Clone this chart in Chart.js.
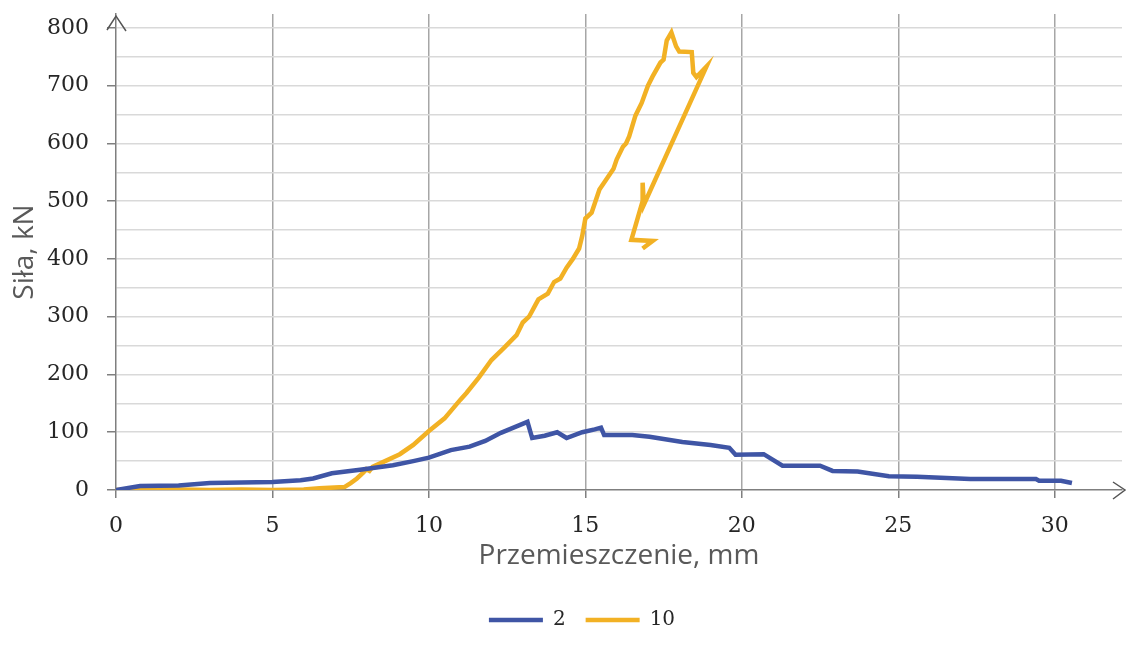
<!DOCTYPE html>
<html>
<head>
<meta charset="utf-8">
<script src="https://cdn.jsdelivr.net/npm/chart.js@4/dist/chart.umd.min.js"></script>
<style>
  html, body { margin: 0; padding: 0; background: #fff; }
  #wrap { width: 1127px; height: 657px; }
</style>
</head>
<body>
<div id="wrap"><canvas id="chart" width="1127" height="657"></canvas></div>
<script>
// Seria "2"
const blueX = [0, 0.77, 2, 3, 4, 5, 5.9, 6.3, 6.9, 7.8, 8.85, 9.5, 10.0, 10.7, 11.3, 11.8, 12.3, 12.8, 13.15, 13.3, 13.7, 14.1, 14.4, 14.9, 15.3, 15.5, 15.6, 16.5, 17.05, 18.1, 19.0, 19.6, 19.8, 20.7, 21.3, 22.5, 22.9, 23.7, 24.7, 25.6, 27.3, 29.4, 29.5, 30.2, 30.55];
const blueY = [0, 7, 8, 12, 13, 14, 17, 20, 29, 35, 43, 50, 56, 69, 75, 85, 99, 110, 118, 90, 94, 100, 90, 100, 105, 108, 95, 95, 92, 83, 78, 73, 61, 62, 42, 42, 33, 32, 24, 23, 19, 19, 16, 16, 12];

// Seria "10"
const orangeX = [0, 0.5, 1, 1.5, 2, 3, 4, 5, 6, 6.5, 7.3, 7.5, 7.7, 7.9, 8.0, 8.1, 8.2, 8.6, 9.07, 9.5, 10.0, 10.5, 11.0, 11.2, 11.6, 12.0, 12.4, 12.8, 13.0, 13.2, 13.4, 13.5, 13.8, 14.0, 14.2, 14.4, 14.6, 14.8, 14.9, 15.0, 15.2, 15.45, 15.7, 15.9, 16.0, 16.2, 16.3, 16.4, 16.6, 16.8, 17.0, 17.15, 17.4, 17.5, 17.6, 17.75, 17.9, 18.0, 18.4, 18.45, 18.55, 18.87, 16.87, 16.83, 16.83, 16.47, 17.15, 16.83];
const orangeY = [0, 1, 0, 2, 1, 0, 1, 0, 1, 3, 5, 12, 20, 30, 36, 33, 40, 50, 62, 78, 102, 124, 156, 168, 195, 225, 246, 268, 290, 300, 320, 330, 340, 360, 366, 385, 400, 418, 440, 470, 480, 520, 540, 556, 572, 594, 600, 612, 648, 670, 700, 716, 740, 745, 778, 792, 768, 759, 758, 722, 715, 733, 494, 532, 500, 433, 431, 418];

const seriesLabels = ['2', '10'];
const seriesColors = ['#3f55a5', '#f2b124'];

const X_MAX = 32.15;
const X_STEP = 5;
const Y_MAX = 824;
const Y_STEP = 50;
const Y_LABEL_STEP = 100;

function toPoints(xs, ys) {
    return xs.map((x, i) => ({ x: x, y: ys[i] }));
}

const axisColor = '#7f7f7f';
const tickFont = { family: 'DejaVu Serif', size: 22 };
const titleFont = { family: 'Open Sans', size: 28 };

// Arrow heads at the end of both axes
const axisArrows = {
    id: 'axisArrows',
    afterDraw(chart) {
        const ctx = chart.ctx;
        const area = chart.chartArea;
        const x0 = chart.scales.x.getPixelForValue(0);
        const y0 = chart.scales.y.getPixelForValue(0);
        ctx.save();
        ctx.strokeStyle = '#555';
        ctx.lineWidth = 1.5;
        ctx.beginPath();
        ctx.moveTo(x0 - 9, area.top + 16);
        ctx.lineTo(x0, area.top + 2);
        ctx.lineTo(x0 + 10, area.top + 17);
        ctx.moveTo(area.right - 9, y0 - 8);
        ctx.lineTo(area.right + 3, y0);
        ctx.lineTo(area.right - 9, y0 + 9);
        ctx.stroke();
        ctx.restore();
    }
};

const datasets = [
    { label: seriesLabels[0], data: toPoints(blueX, blueY) },
    { label: seriesLabels[1], data: toPoints(orangeX, orangeY) }
].map((ds, i) => ({
    ...ds,
    borderColor: seriesColors[i],
    backgroundColor: seriesColors[i],
    borderWidth: 4.5,
    pointRadius: 0,
    tension: 0,
    showLine: true,
    pointStyle: 'line'
}));

new Chart(document.getElementById('chart'), {
    type: 'scatter',
    data: { datasets: datasets },
    plugins: [axisArrows],
    options: {
        responsive: false,
        animation: false,
        // left padding only to shift the centred legend like in the original
        layout: { padding: { top: 14, right: 5, left: 42, bottom: 17 } },
        plugins: {
            tooltip: { enabled: false },
            legend: {
                position: 'bottom',
                labels: {
                    usePointStyle: true,
                    pointStyle: 'line',
                    pointStyleWidth: 54,
                    padding: 20,
                    color: '#262626',
                    font: { family: 'DejaVu Serif', size: 20 }
                }
            }
        },
        scales: {
            x: {
                type: 'linear',
                min: 0,
                max: X_MAX,
                afterFit: scale => {
                    scale.height = 100;
                    scale.paddingLeft = 0;
                    scale.paddingRight = 0;
                },
                ticks: {
                    stepSize: X_STEP,
                    includeBounds: false,
                    color: '#262626',
                    font: tickFont,
                    padding: 15,
                    maxRotation: 0
                },
                grid: {
                    color: ctx => ctx.tick && ctx.tick.value === 0 ? 'transparent' : '#a6a6a6',
                    lineWidth: 1.5,
                    tickLength: 8,
                    tickColor: axisColor
                },
                border: { color: axisColor, width: 1.5 },
                title: {
                    display: true,
                    text: 'Przemieszczenie, mm',
                    color: '#595959',
                    font: titleFont,
                    padding: { top: 0, bottom: 17 }
                }
            },
            y: {
                min: 0,
                max: Y_MAX,
                afterFit: scale => {
                    scale.width = 74;
                    scale.paddingTop = 0;
                    scale.paddingBottom = 0;
                },
                ticks: {
                    stepSize: Y_STEP,
                    includeBounds: false,
                    color: '#262626',
                    font: tickFont,
                    padding: 18,
                    callback: v => (v % Y_LABEL_STEP === 0 ? v : '')
                },
                grid: {
                    color: ctx => ctx.tick && ctx.tick.value === 0 ? 'transparent' : '#d9d9d9',
                    lineWidth: 1.5,
                    tickLength: 9,
                    tickColor: ctx => ctx.tick && ctx.tick.value % Y_LABEL_STEP === 0 ? axisColor : 'transparent'
                },
                border: { color: axisColor, width: 1.5 },
                title: {
                    display: true,
                    text: 'Siła, kN',
                    color: '#595959',
                    font: titleFont,
                    padding: { top: -34, bottom: 0 }
                }
            }
        }
    }
});
</script>
</body>
</html>
